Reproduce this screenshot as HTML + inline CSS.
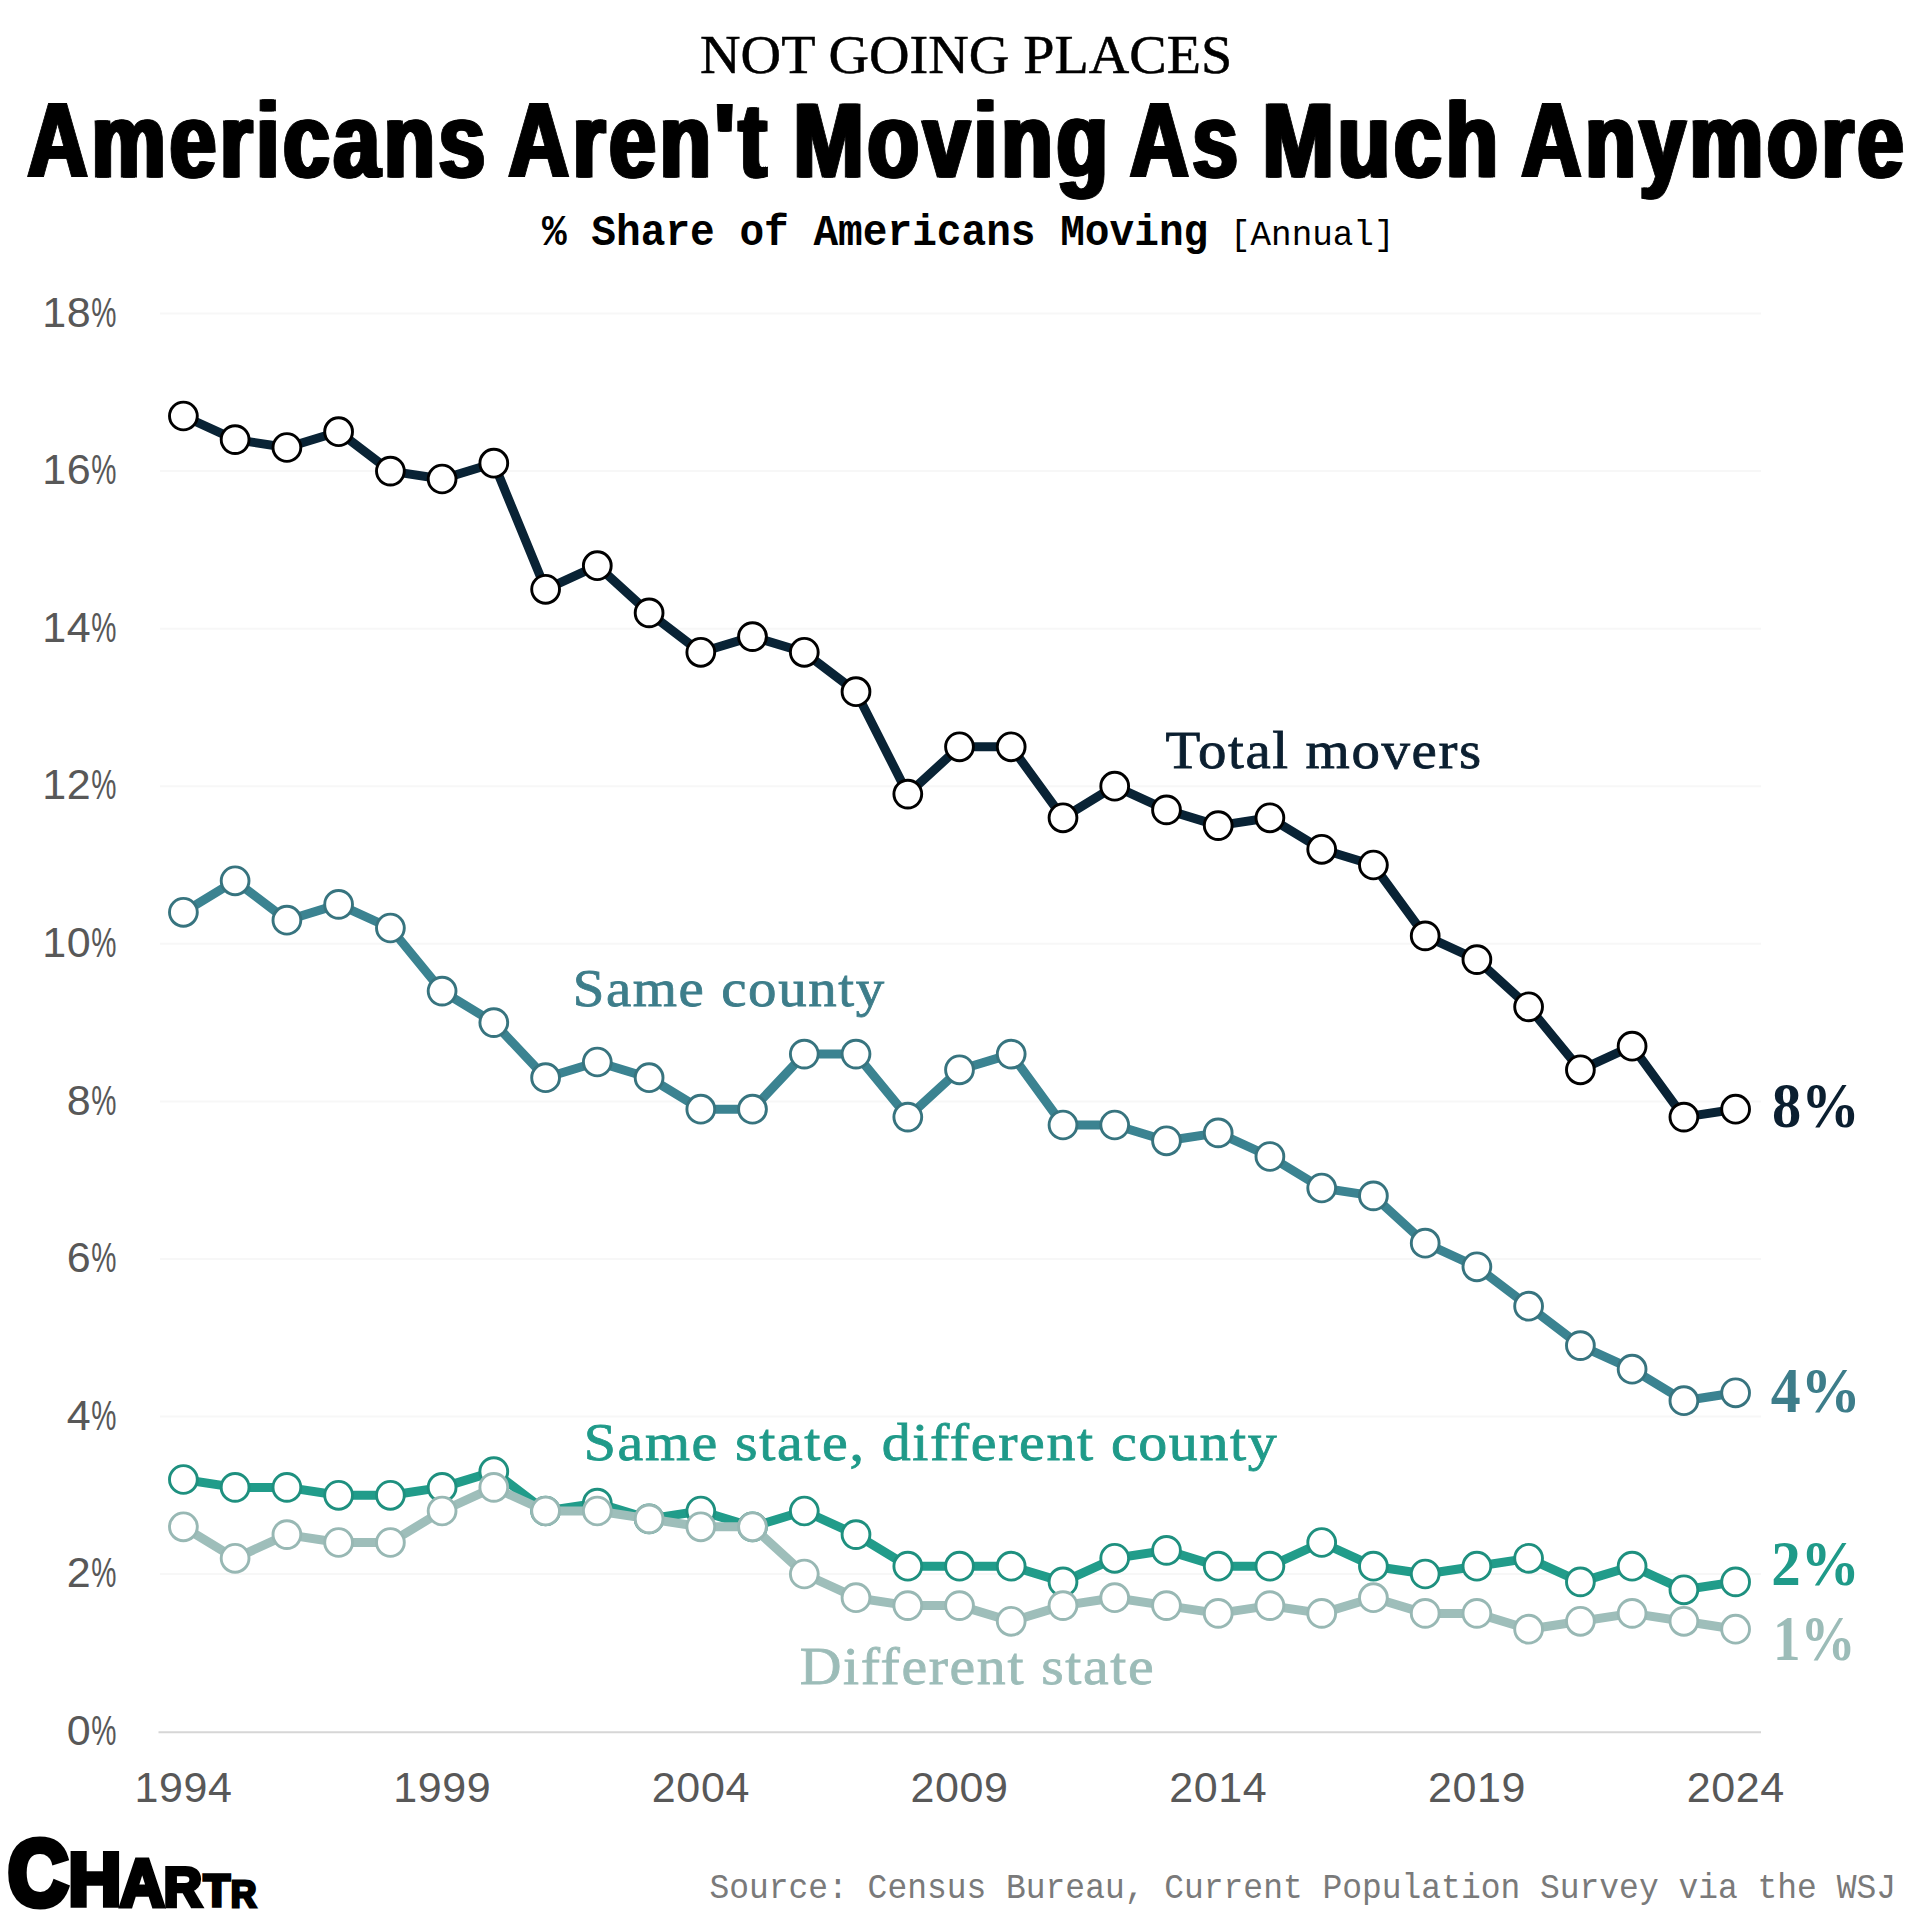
<!DOCTYPE html>
<html lang="en"><head><meta charset="utf-8"><title>Americans Aren't Moving As Much Anymore</title>
<style>
html,body{margin:0;padding:0;background:#fff;}
body{width:1920px;height:1920px;overflow:hidden;}
svg{display:block;}
text{font-family:"Liberation Sans",sans-serif;}
.ax{font-size:43px;fill:#585858;letter-spacing:0.6px;}
.axp{letter-spacing:0;}
.lbl{font-family:"Liberation Serif",serif;font-size:53px;letter-spacing:1.5px;stroke-width:0.8px;}
.end{font-family:"Liberation Serif",serif;font-weight:bold;font-size:62.6px;}
.kick{font-family:"Liberation Serif",serif;font-size:55px;fill:#000;stroke:#000;stroke-width:0.5px;}
.head{font-weight:bold;font-size:106.5px;letter-spacing:5px;fill:#000;stroke:#000;stroke-width:1px;filter:drop-shadow(2px 0 0 #000) drop-shadow(-2px 0 0 #000);}
.sub{font-family:"Liberation Mono",monospace;fill:#000;}
.subb{font-weight:bold;font-size:43.5px;}
.subr{font-size:35px;}
.src{font-family:"Liberation Mono",monospace;font-size:35px;fill:#7a7a7a;}
.logo text{font-weight:bold;fill:#000;stroke:#000;stroke-linejoin:miter;}
</style></head>
<body>
<svg width="1920" height="1920" viewBox="0 0 1920 1920">
<rect width="1920" height="1920" fill="#fff"/>
<line x1="160" x2="1761" y1="1574.0" y2="1574.0" stroke="#f7f7f7" stroke-width="2"/>
<line x1="160" x2="1761" y1="1416.5" y2="1416.5" stroke="#f7f7f7" stroke-width="2"/>
<line x1="160" x2="1761" y1="1258.9" y2="1258.9" stroke="#f7f7f7" stroke-width="2"/>
<line x1="160" x2="1761" y1="1101.4" y2="1101.4" stroke="#f7f7f7" stroke-width="2"/>
<line x1="160" x2="1761" y1="943.8" y2="943.8" stroke="#f7f7f7" stroke-width="2"/>
<line x1="160" x2="1761" y1="786.2" y2="786.2" stroke="#f7f7f7" stroke-width="2"/>
<line x1="160" x2="1761" y1="628.7" y2="628.7" stroke="#f7f7f7" stroke-width="2"/>
<line x1="160" x2="1761" y1="471.1" y2="471.1" stroke="#f7f7f7" stroke-width="2"/>
<line x1="160" x2="1761" y1="313.6" y2="313.6" stroke="#f7f7f7" stroke-width="2"/>
<line x1="158.5" x2="1761" y1="1732.2" y2="1732.2" stroke="#d6d6d6" stroke-width="2"/>
<polyline points="183.4,416.0 235.1,439.6 286.9,447.5 338.6,431.7 390.4,471.1 442.1,479.0 493.8,463.2 545.6,589.3 597.3,565.7 649.1,612.9 700.8,652.3 752.5,636.6 804.3,652.3 856.0,691.7 907.8,794.1 959.5,746.8 1011.2,746.8 1063.0,817.8 1114.7,786.2 1166.5,809.9 1218.2,825.6 1269.9,817.8 1321.7,849.3 1373.4,865.0 1425.2,935.9 1476.9,959.6 1528.6,1006.8 1580.4,1069.8 1632.1,1046.2 1683.9,1117.1 1735.6,1109.2" fill="none" stroke="#092335" stroke-width="9" stroke-linejoin="round" stroke-linecap="round"/>
<g fill="#fff" stroke="#000000" stroke-width="2.9"><circle cx="183.4" cy="416.0" r="13.9"/><circle cx="235.1" cy="439.6" r="13.9"/><circle cx="286.9" cy="447.5" r="13.9"/><circle cx="338.6" cy="431.7" r="13.9"/><circle cx="390.4" cy="471.1" r="13.9"/><circle cx="442.1" cy="479.0" r="13.9"/><circle cx="493.8" cy="463.2" r="13.9"/><circle cx="545.6" cy="589.3" r="13.9"/><circle cx="597.3" cy="565.7" r="13.9"/><circle cx="649.1" cy="612.9" r="13.9"/><circle cx="700.8" cy="652.3" r="13.9"/><circle cx="752.5" cy="636.6" r="13.9"/><circle cx="804.3" cy="652.3" r="13.9"/><circle cx="856.0" cy="691.7" r="13.9"/><circle cx="907.8" cy="794.1" r="13.9"/><circle cx="959.5" cy="746.8" r="13.9"/><circle cx="1011.2" cy="746.8" r="13.9"/><circle cx="1063.0" cy="817.8" r="13.9"/><circle cx="1114.7" cy="786.2" r="13.9"/><circle cx="1166.5" cy="809.9" r="13.9"/><circle cx="1218.2" cy="825.6" r="13.9"/><circle cx="1269.9" cy="817.8" r="13.9"/><circle cx="1321.7" cy="849.3" r="13.9"/><circle cx="1373.4" cy="865.0" r="13.9"/><circle cx="1425.2" cy="935.9" r="13.9"/><circle cx="1476.9" cy="959.6" r="13.9"/><circle cx="1528.6" cy="1006.8" r="13.9"/><circle cx="1580.4" cy="1069.8" r="13.9"/><circle cx="1632.1" cy="1046.2" r="13.9"/><circle cx="1683.9" cy="1117.1" r="13.9"/><circle cx="1735.6" cy="1109.2" r="13.9"/></g>

<polyline points="183.4,912.3 235.1,880.8 286.9,920.2 338.6,904.4 390.4,928.0 442.1,991.1 493.8,1022.6 545.6,1077.7 597.3,1062.0 649.1,1077.7 700.8,1109.2 752.5,1109.2 804.3,1054.1 856.0,1054.1 907.8,1117.1 959.5,1069.8 1011.2,1054.1 1063.0,1125.0 1114.7,1125.0 1166.5,1140.8 1218.2,1132.9 1269.9,1156.5 1321.7,1188.0 1373.4,1195.9 1425.2,1243.2 1476.9,1266.8 1528.6,1306.2 1580.4,1345.6 1632.1,1369.2 1683.9,1400.7 1735.6,1392.8" fill="none" stroke="#3b8391" stroke-width="9" stroke-linejoin="round" stroke-linecap="round"/>
<g fill="#fff" stroke="#37747f" stroke-width="2.9"><circle cx="183.4" cy="912.3" r="13.9"/><circle cx="235.1" cy="880.8" r="13.9"/><circle cx="286.9" cy="920.2" r="13.9"/><circle cx="338.6" cy="904.4" r="13.9"/><circle cx="390.4" cy="928.0" r="13.9"/><circle cx="442.1" cy="991.1" r="13.9"/><circle cx="493.8" cy="1022.6" r="13.9"/><circle cx="545.6" cy="1077.7" r="13.9"/><circle cx="597.3" cy="1062.0" r="13.9"/><circle cx="649.1" cy="1077.7" r="13.9"/><circle cx="700.8" cy="1109.2" r="13.9"/><circle cx="752.5" cy="1109.2" r="13.9"/><circle cx="804.3" cy="1054.1" r="13.9"/><circle cx="856.0" cy="1054.1" r="13.9"/><circle cx="907.8" cy="1117.1" r="13.9"/><circle cx="959.5" cy="1069.8" r="13.9"/><circle cx="1011.2" cy="1054.1" r="13.9"/><circle cx="1063.0" cy="1125.0" r="13.9"/><circle cx="1114.7" cy="1125.0" r="13.9"/><circle cx="1166.5" cy="1140.8" r="13.9"/><circle cx="1218.2" cy="1132.9" r="13.9"/><circle cx="1269.9" cy="1156.5" r="13.9"/><circle cx="1321.7" cy="1188.0" r="13.9"/><circle cx="1373.4" cy="1195.9" r="13.9"/><circle cx="1425.2" cy="1243.2" r="13.9"/><circle cx="1476.9" cy="1266.8" r="13.9"/><circle cx="1528.6" cy="1306.2" r="13.9"/><circle cx="1580.4" cy="1345.6" r="13.9"/><circle cx="1632.1" cy="1369.2" r="13.9"/><circle cx="1683.9" cy="1400.7" r="13.9"/><circle cx="1735.6" cy="1392.8" r="13.9"/></g>

<polyline points="183.4,1479.5 235.1,1487.4 286.9,1487.4 338.6,1495.3 390.4,1495.3 442.1,1487.4 493.8,1471.6 545.6,1511.0 597.3,1503.1 649.1,1518.9 700.8,1511.0 752.5,1526.8 804.3,1511.0 856.0,1534.6 907.8,1566.2 959.5,1566.2 1011.2,1566.2 1063.0,1581.9 1114.7,1558.3 1166.5,1550.4 1218.2,1566.2 1269.9,1566.2 1321.7,1542.5 1373.4,1566.2 1425.2,1574.0 1476.9,1566.2 1528.6,1558.3 1580.4,1581.9 1632.1,1566.2 1683.9,1589.8 1735.6,1581.9" fill="none" stroke="#219c8a" stroke-width="9" stroke-linejoin="round" stroke-linecap="round"/>
<g fill="#fff" stroke="#1e907f" stroke-width="2.9"><circle cx="183.4" cy="1479.5" r="13.9"/><circle cx="235.1" cy="1487.4" r="13.9"/><circle cx="286.9" cy="1487.4" r="13.9"/><circle cx="338.6" cy="1495.3" r="13.9"/><circle cx="390.4" cy="1495.3" r="13.9"/><circle cx="442.1" cy="1487.4" r="13.9"/><circle cx="493.8" cy="1471.6" r="13.9"/><circle cx="545.6" cy="1511.0" r="13.9"/><circle cx="597.3" cy="1503.1" r="13.9"/><circle cx="649.1" cy="1518.9" r="13.9"/><circle cx="700.8" cy="1511.0" r="13.9"/><circle cx="752.5" cy="1526.8" r="13.9"/><circle cx="804.3" cy="1511.0" r="13.9"/><circle cx="856.0" cy="1534.6" r="13.9"/><circle cx="907.8" cy="1566.2" r="13.9"/><circle cx="959.5" cy="1566.2" r="13.9"/><circle cx="1011.2" cy="1566.2" r="13.9"/><circle cx="1063.0" cy="1581.9" r="13.9"/><circle cx="1114.7" cy="1558.3" r="13.9"/><circle cx="1166.5" cy="1550.4" r="13.9"/><circle cx="1218.2" cy="1566.2" r="13.9"/><circle cx="1269.9" cy="1566.2" r="13.9"/><circle cx="1321.7" cy="1542.5" r="13.9"/><circle cx="1373.4" cy="1566.2" r="13.9"/><circle cx="1425.2" cy="1574.0" r="13.9"/><circle cx="1476.9" cy="1566.2" r="13.9"/><circle cx="1528.6" cy="1558.3" r="13.9"/><circle cx="1580.4" cy="1581.9" r="13.9"/><circle cx="1632.1" cy="1566.2" r="13.9"/><circle cx="1683.9" cy="1589.8" r="13.9"/><circle cx="1735.6" cy="1581.9" r="13.9"/></g>

<polyline points="183.4,1526.8 235.1,1558.3 286.9,1534.6 338.6,1542.5 390.4,1542.5 442.1,1511.0 493.8,1487.4 545.6,1511.0 597.3,1511.0 649.1,1518.9 700.8,1526.8 752.5,1526.8 804.3,1574.0 856.0,1597.7 907.8,1605.6 959.5,1605.6 1011.2,1621.3 1063.0,1605.6 1114.7,1597.7 1166.5,1605.6 1218.2,1613.4 1269.9,1605.6 1321.7,1613.4 1373.4,1597.7 1425.2,1613.4 1476.9,1613.4 1528.6,1629.2 1580.4,1621.3 1632.1,1613.4 1683.9,1621.3 1735.6,1629.2" fill="none" stroke="#9ebeba" stroke-width="9" stroke-linejoin="round" stroke-linecap="round"/>
<g fill="#fff" stroke="#98b8b4" stroke-width="2.9"><circle cx="183.4" cy="1526.8" r="13.9"/><circle cx="235.1" cy="1558.3" r="13.9"/><circle cx="286.9" cy="1534.6" r="13.9"/><circle cx="338.6" cy="1542.5" r="13.9"/><circle cx="390.4" cy="1542.5" r="13.9"/><circle cx="442.1" cy="1511.0" r="13.9"/><circle cx="493.8" cy="1487.4" r="13.9"/><circle cx="545.6" cy="1511.0" r="13.9"/><circle cx="597.3" cy="1511.0" r="13.9"/><circle cx="649.1" cy="1518.9" r="13.9"/><circle cx="700.8" cy="1526.8" r="13.9"/><circle cx="752.5" cy="1526.8" r="13.9"/><circle cx="804.3" cy="1574.0" r="13.9"/><circle cx="856.0" cy="1597.7" r="13.9"/><circle cx="907.8" cy="1605.6" r="13.9"/><circle cx="959.5" cy="1605.6" r="13.9"/><circle cx="1011.2" cy="1621.3" r="13.9"/><circle cx="1063.0" cy="1605.6" r="13.9"/><circle cx="1114.7" cy="1597.7" r="13.9"/><circle cx="1166.5" cy="1605.6" r="13.9"/><circle cx="1218.2" cy="1613.4" r="13.9"/><circle cx="1269.9" cy="1605.6" r="13.9"/><circle cx="1321.7" cy="1613.4" r="13.9"/><circle cx="1373.4" cy="1597.7" r="13.9"/><circle cx="1425.2" cy="1613.4" r="13.9"/><circle cx="1476.9" cy="1613.4" r="13.9"/><circle cx="1528.6" cy="1629.2" r="13.9"/><circle cx="1580.4" cy="1621.3" r="13.9"/><circle cx="1632.1" cy="1613.4" r="13.9"/><circle cx="1683.9" cy="1621.3" r="13.9"/><circle cx="1735.6" cy="1629.2" r="13.9"/></g>

<text class="ax" x="91.30" y="1744.80" text-anchor="end">0</text>
<text class="ax axp" x="91.20" y="1744.80" textLength="25.20" lengthAdjust="spacingAndGlyphs">%</text>
<text class="ax" x="91.30" y="1587.24" text-anchor="end">2</text>
<text class="ax axp" x="91.20" y="1587.24" textLength="25.20" lengthAdjust="spacingAndGlyphs">%</text>
<text class="ax" x="91.30" y="1429.68" text-anchor="end">4</text>
<text class="ax axp" x="91.20" y="1429.68" textLength="25.20" lengthAdjust="spacingAndGlyphs">%</text>
<text class="ax" x="91.30" y="1272.12" text-anchor="end">6</text>
<text class="ax axp" x="91.20" y="1272.12" textLength="25.20" lengthAdjust="spacingAndGlyphs">%</text>
<text class="ax" x="91.30" y="1114.56" text-anchor="end">8</text>
<text class="ax axp" x="91.20" y="1114.56" textLength="25.20" lengthAdjust="spacingAndGlyphs">%</text>
<text class="ax" x="91.30" y="957.00" text-anchor="end">10</text>
<text class="ax axp" x="91.20" y="957.00" textLength="25.20" lengthAdjust="spacingAndGlyphs">%</text>
<text class="ax" x="91.30" y="799.44" text-anchor="end">12</text>
<text class="ax axp" x="91.20" y="799.44" textLength="25.20" lengthAdjust="spacingAndGlyphs">%</text>
<text class="ax" x="91.30" y="641.88" text-anchor="end">14</text>
<text class="ax axp" x="91.20" y="641.88" textLength="25.20" lengthAdjust="spacingAndGlyphs">%</text>
<text class="ax" x="91.30" y="484.32" text-anchor="end">16</text>
<text class="ax axp" x="91.20" y="484.32" textLength="25.20" lengthAdjust="spacingAndGlyphs">%</text>
<text class="ax" x="91.30" y="326.76" text-anchor="end">18</text>
<text class="ax axp" x="91.20" y="326.76" textLength="25.20" lengthAdjust="spacingAndGlyphs">%</text>
<text class="ax" x="183.50" y="1801.60" text-anchor="middle">1994</text>
<text class="ax" x="442.20" y="1801.60" text-anchor="middle">1999</text>
<text class="ax" x="700.90" y="1801.60" text-anchor="middle">2004</text>
<text class="ax" x="959.60" y="1801.60" text-anchor="middle">2009</text>
<text class="ax" x="1218.30" y="1801.60" text-anchor="middle">2014</text>
<text class="ax" x="1477.00" y="1801.60" text-anchor="middle">2019</text>
<text class="ax" x="1735.70" y="1801.60" text-anchor="middle">2024</text>
<text class="lbl" x="1165.50" y="767.50" textLength="317.20" lengthAdjust="spacingAndGlyphs" fill="#0b1f30" stroke="#0b1f30">Total movers</text>
<text class="lbl" x="572.70" y="1006.40" textLength="313.00" lengthAdjust="spacingAndGlyphs" fill="#3d7d8a" stroke="#3d7d8a">Same county</text>
<text class="lbl" x="583.70" y="1460.00" textLength="694.70" lengthAdjust="spacingAndGlyphs" fill="#1f9a89" stroke="#1f9a89">Same state, different county</text>
<text class="lbl" x="799.70" y="1683.50" textLength="355.50" lengthAdjust="spacingAndGlyphs" fill="#9cbcb8" stroke="#9cbcb8">Different state</text>
<text class="end" x="1772.00" y="1126.80" textLength="87.60" lengthAdjust="spacingAndGlyphs" fill="#0b1f30">8%</text>
<text class="end" x="1770.70" y="1412.00" textLength="89.90" lengthAdjust="spacingAndGlyphs" fill="#3d7d8a">4%</text>
<text class="end" x="1771.20" y="1585.40" textLength="88.40" lengthAdjust="spacingAndGlyphs" fill="#1f9a89">2%</text>
<text class="end" x="1773.00" y="1659.60" textLength="82.50" lengthAdjust="spacingAndGlyphs" fill="#9cbcb8">1%</text>
<text class="kick" x="700.10" y="73.40" textLength="532.10" lengthAdjust="spacingAndGlyphs">NOT GOING PLACES</text>
<text class="head" x="27.5" y="177" textLength="461.5" lengthAdjust="spacingAndGlyphs">Americans</text>
<text class="head" x="508.5" y="177" textLength="262.0" lengthAdjust="spacingAndGlyphs">Aren&#39;t</text>
<text class="head" x="793.5" y="177" textLength="318.5" lengthAdjust="spacingAndGlyphs">Moving</text>
<text class="head" x="1130.0" y="177" textLength="111.5" lengthAdjust="spacingAndGlyphs">As</text>
<text class="head" x="1262.5" y="177" textLength="239.5" lengthAdjust="spacingAndGlyphs">Much</text>
<text class="head" x="1521.5" y="177" textLength="386.0" lengthAdjust="spacingAndGlyphs">Anymore</text>
<text class="sub subb" x="542.00" y="245.00" textLength="666.25" lengthAdjust="spacingAndGlyphs">% Share of Americans Moving</text>
<text class="sub subr" x="1230.00" y="245.00" textLength="164.50" lengthAdjust="spacingAndGlyphs">[Annual]</text>
<text class="src" x="709.40" y="1898.00" textLength="1186.60" lengthAdjust="spacingAndGlyphs">Source: Census Bureau, Current Population Survey via the WSJ</text>
<g class="logo">
<text x="7.90" y="1904.80" font-size="92.81" stroke-width="7.18" textLength="60.10" lengthAdjust="spacingAndGlyphs">C</text>
<text x="68.40" y="1904.50" font-size="73.99" stroke-width="5.67" textLength="52.70" lengthAdjust="spacingAndGlyphs">H</text>
<text x="120.00" y="1905.50" font-size="67.21" stroke-width="5.03" textLength="44.40" lengthAdjust="spacingAndGlyphs">A</text>
<text x="163.80" y="1905.50" font-size="54.70" stroke-width="4.25" textLength="38.20" lengthAdjust="spacingAndGlyphs">R</text>
<text x="203.50" y="1905.50" font-size="44.80" stroke-width="3.50" textLength="26.50" lengthAdjust="spacingAndGlyphs">T</text>
<text x="230.80" y="1906.50" font-size="36.13" stroke-width="2.78" textLength="25.70" lengthAdjust="spacingAndGlyphs">R</text>
</g>
</svg>
</body></html>
